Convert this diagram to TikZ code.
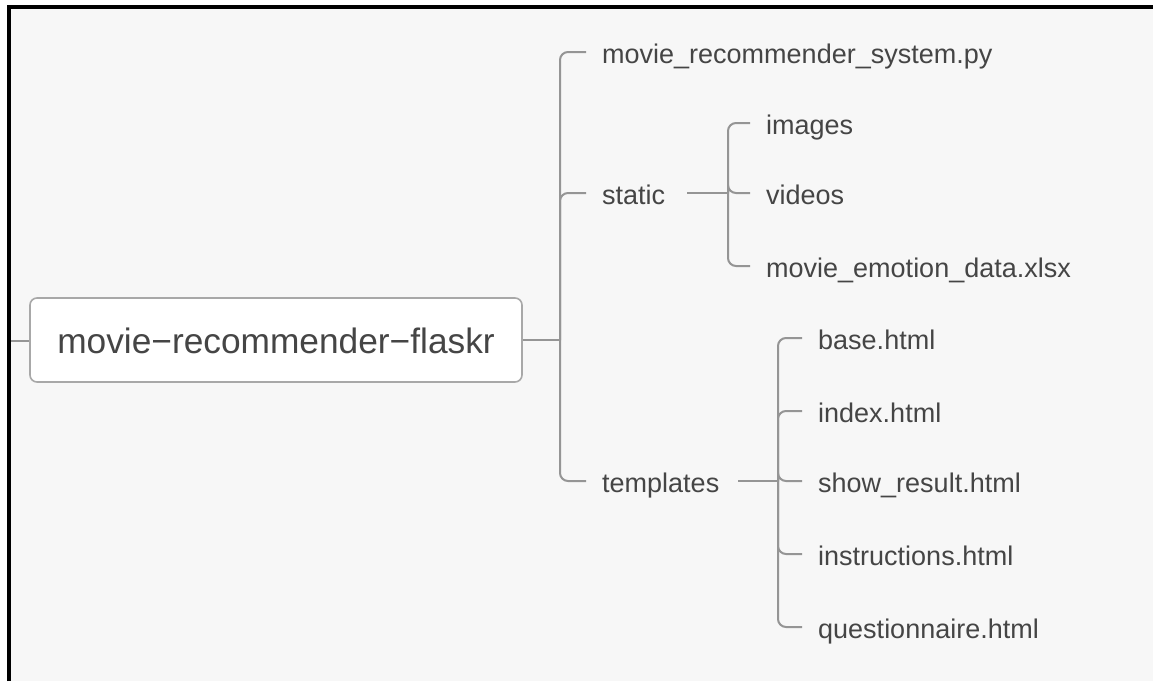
\documentclass[tikz,border=0pt]{standalone}
\usepackage{fontspec}
\setmainfont{Liberation Sans}
\definecolor{bg}{HTML}{F7F7F7}
\definecolor{linec}{HTML}{959595}
\definecolor{boxc}{HTML}{A8A8A8}
\definecolor{txt}{HTML}{454545}
\begin{document}
\begin{tikzpicture}[x=1pt,y=-1pt,
  conn/.style={draw=linec,line width=2pt,rounded corners=8pt},
  leaf/.style={anchor=west,inner sep=0pt,text height=24pt,text depth=2pt,
    text=txt,font=\fontsize{27}{32}\selectfont},
  rootbox/.style={draw=boxc,fill=white,line width=1.6pt,rounded corners=7pt,
    minimum width=492pt,minimum height=84pt,inner sep=0pt,
    text height=28pt,text depth=2pt,text=txt,font=\fontsize{35.3}{40}\selectfont}]
\useasboundingbox (0,0) rectangle (1153,681);
\fill[white] (0,0) rectangle (1153,681);
\fill[bg] (9,7) rectangle (1153,681);
\draw[black,line width=4pt] (9,681) -- (9,7) -- (1153,7);

% root
\node[rootbox] (root) at (276,340) {movie−recommender−flaskr};
\coordinate (lp) at (11,341);
\draw[conn] (lp) -- (root.west |- lp);

% level 1
\coordinate (t0) at (560,340);
\node[leaf] (py) at (602,52) {movie\_recommender\_system.py};
\node[leaf] (static) at (602,193) {static};
\node[leaf] (tpl) at (602,481) {templates};
\draw[conn] (root.east) -- (t0);
\foreach \n in {py,static,tpl}
  \draw[conn] (t0) |- ([xshift=-16pt]\n.west);

% static children
\coordinate (s0) at (728,193);
\node[leaf] (img) at (766,123) {images};
\node[leaf] (vid) at (766,193) {videos};
\node[leaf] (xls) at (766,266) {movie\_emotion\_data.xlsx};
\draw[conn] ([xshift=22pt]static.east) -- (s0);
\foreach \n in {img,vid,xls}
  \draw[conn] (s0) |- ([xshift=-16pt]\n.west);

% templates children
\coordinate (u0) at (778,481);
\node[leaf] (base) at (818,338) {base.html};
\node[leaf] (idx) at (818,411) {index.html};
\node[leaf] (show) at (818,481) {show\_result.html};
\node[leaf] (ins) at (818,554) {instructions.html};
\node[leaf] (que) at (818,627) {questionnaire.html};
\draw[conn] ([xshift=19pt]tpl.east) -- (u0);
\foreach \n in {base,idx,show,ins,que}
  \draw[conn] (u0) |- ([xshift=-16pt]\n.west);
\end{tikzpicture}
\end{document}
